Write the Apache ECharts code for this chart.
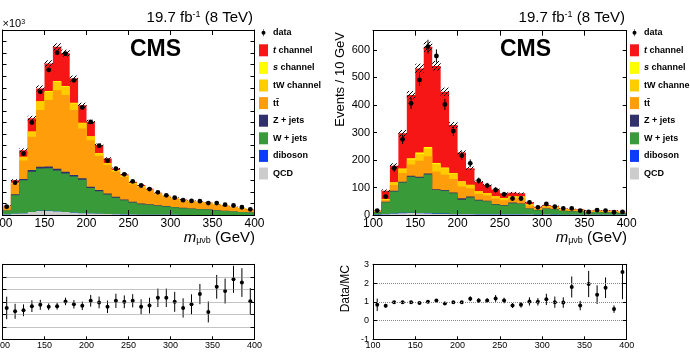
<!DOCTYPE html>
<html>
<head>
<meta charset="utf-8">
<script src="https://cdn.jsdelivr.net/npm/echarts@6/dist/echarts.min.js"></script>
<style>
html, body { margin: 0; padding: 0; background: #fff; }
#chart { width: 690px; height: 354px; }
</style>
</head>
<body>
<div id="chart"></div>
<script>
const FONT = '"Liberation Sans", Arial, Helvetica, sans-serif';

// bin edges of m(mu nu b), GeV
const binEdges = [100,110,120,130,140,150,160,170,180,190,200,210,220,230,240,250,260,270,280,290,300,310,320,330,340,350,360,370,380,390,400];

// legend order (top of stack first)
const procNames = ['t channel', 's channel', 'tW channel', 'tt\u0304', 'Z + jets', 'W + jets', 'diboson', 'QCD'];
const procColors = ['#f71616', '#ffff00', '#ffcc00', '#ff9d0a', '#30306c', '#389a38', '#0a3cfa', '#cccccc'];

// ---- left panel (events x 10^3) ----
const leftTch = [0.05,0.2,0.55,1.13,1.12,2.38,2.96,2.84,2.1,1.52,1.26,0.69,0.41,0.14,0.12,0.1,0.09,0.08,0.07,0.06,0.05,0.05,0.04,0.04,0.04,0.03,0.03,0.03,0.02,0.02];
const leftSch = [0,0.02,0.03,0.03,0.03,0.06,0.06,0.06,0.05,0.05,0.04,0.03,0.02,0.02,0.01,0.01,0.01,0.01,0.01,0.01,0.01,0.01,0.01,0.01,0.01,0.01,0,0,0,0];
const leftTW = [0.03,0.1,0.3,0.43,0.72,0.72,0.73,0.73,0.57,0.44,0.29,0.23,0.15,0.12,0.11,0.09,0.08,0.07,0.06,0.05,0.05,0.04,0.04,0.03,0.03,0.03,0.02,0.02,0.02,0.01];
const leftTT = [0.32,0.89,1.6,2.87,4.9,5.74,6.8,6.62,5.62,4.32,4.03,2.94,2.45,2.17,1.95,1.53,1.42,1.17,0.93,0.77,0.69,0.62,0.58,0.55,0.52,0.45,0.41,0.35,0.29,0.24];
const leftZjets = [0.02,0.08,0.12,0.15,0.15,0.15,0.15,0.15,0.14,0.13,0.12,0.1,0.09,0.08,0.07,0.06,0.05,0.05,0.04,0.04,0.03,0.03,0.03,0.02,0.02,0.02,0.02,0.01,0.01,0.01];
const leftWjets = [0.34,1.6,2.86,3.49,3.67,3.69,3.54,3.34,3.11,2.88,2.2,1.95,1.69,1.43,1.22,1.04,0.91,0.86,0.79,0.71,0.64,0.58,0.52,0.48,0.46,0.39,0.34,0.29,0.25,0.2];
const leftVV = [0,0.005,0.005,0.01,0.01,0.01,0.01,0.01,0.01,0.01,0.005,0.005,0.005,0.005,0.005,0,0,0,0,0,0,0,0,0,0,0,0,0,0,0];
const leftQCD = [0.04,0.1,0.13,0.25,0.35,0.35,0.3,0.25,0.2,0.15,0.12,0.1,0.08,0.06,0.05,0.04,0.03,0.03,0.02,0.02,0.02,0.01,0.01,0.01,0.01,0.01,0.01,0.01,0.01,0.01];
const leftData = [0.72,2.8,5.3,8.0,10.65,12.55,14.04,13.95,11.65,9.3,8.05,6.0,4.7,4.0,3.52,2.9,2.55,2.24,1.96,1.7,1.5,1.28,1.22,1.2,1.03,1.03,0.89,0.82,0.67,0.49];
const leftDataErr = [0.03,0.05,0.07,0.09,0.1,0.11,0.12,0.12,0.11,0.1,0.09,0.08,0.07,0.06,0.06,0.05,0.05,0.05,0.04,0.04,0.04,0.04,0.03,0.03,0.03,0.03,0.03,0.03,0.03,0.02];
const leftUnc = [0.03,0.1,0.17,0.22,0.26,0.28,0.3,0.3,0.26,0.21,0.17,0.13,0.1,0.08,0.07,0.05,0.05,0.04,0.04,0.03,0.03,0.03,0.03,0.02,0.02,0.02,0.02,0.02,0.01,0.01];
const leftRatio = [0.951,0.924,0.932,0.965,0.976,0.96,0.965,1.003,0.98,0.968,1.008,0.995,0.96,1.008,1.0,1.008,0.96,0.97,1.032,1.032,1.0,0.951,0.98,1.062,0.919,1.12,1.086,1.18,1.154,1.005];
const leftRatioErr = [0.09,0.06,0.047,0.047,0.04,0.027,0.027,0.03,0.034,0.034,0.047,0.047,0.05,0.057,0.051,0.053,0.06,0.063,0.074,0.074,0.08,0.077,0.08,0.081,0.084,0.095,0.1,0.108,0.115,0.105];

// ---- right panel (events / 10 GeV) ----
const rightTch = [3,30,60,128,230,306,365,353,275,174,104,60,35,29,25,17,13,12,7,4,4,3,2.5,2,2,1.5,1.5,1.5,1.5,1];
const rightSch = [0,1,2,3,4,5,5,4,3,2,2,1,1,1,1,1,1,1,0.5,0.5,0.5,0.5,0.5,0.5,0.5,0.5,0.5,0.5,0.5,0.5];
const rightTW = [1,3,8,13,18,25,28,27,24,20,17,12,9,8,7,7,6,6,4,2.5,2.5,2.5,2,2,2,1.5,1.5,1.5,1.5,1];
const rightTT = [2,6,21,32,41,58,63,64,55,49,43,30,21,19,20,18,16,18,10.5,5,5,5,4,4,3.5,3,3.5,3,3,2.5];
const rightZjets = [0.5,1.5,2.5,3,3.5,3.5,4,3.5,3,3,6,3,2,2,2,1.5,2,2,1,1,1,1,0.5,0.5,0.5,0.5,0.5,0.5,0.5,0.5];
const rightWjets = [8,43,80,110,131,128,140,85,83,75,51,60,50,47,35,32,40,37,21,15.5,21,19.5,13.5,12,11.5,8,9.5,8,8,5.5];
const rightVV = [0.3,0.5,1,1.5,1.5,1.5,2,1.5,1.5,1,1,1,1,1,1,1,1,1,0.5,0.5,0.5,0.5,0.5,0.5,0.5,0.5,0.5,0.5,0.5,0.5];
const rightQCD = [1.2,3,4.5,6.5,7,6,5,4,3.5,3,3,3,2,2,2,1.5,2,2,1.5,1,1.5,1,0.5,0.5,0.5,0.5,0.5,0.5,0.5,0.5];
const rightData = [16,67,170,275,406,491,612,578,402,305,216,188,125,107,91,75,60,60,46,28,40,30,24,24,16,11,18,16,10,11];
const rightDataErr = [4,8,13,17,20,22,25,24,20,17,15,14,11,10,10,9,8,8,7,5,6,5,5,5,4,3,4,4,3,3];
const rightUnc = [1,5,9,12,15,17,19,18,15,11,8,6,4,4,3,3,3,3,2,1,1,1,1,1,1,1,1,1,1,1];
const rightRatio = [0.84,0.79,0.98,0.98,0.98,0.93,1.0,1.07,0.91,0.98,0.98,1.16,1.07,1.07,1.18,1.07,0.8,0.84,1.02,1.0,1.13,0.98,0.96,1.79,0.8,1.95,1.38,1.75,0.61,2.59];
const rightRatioErr = [0.33,0.1,0.07,0.06,0.05,0.05,0.04,0.05,0.05,0.06,0.07,0.13,0.12,0.12,0.18,0.15,0.13,0.15,0.22,0.2,0.3,0.3,0.28,0.56,0.25,0.7,0.5,0.55,0.2,1.45];

// hatch for the MC uncertainty band
const hatchCanvas = document.createElement('canvas');
hatchCanvas.width = 4; hatchCanvas.height = 4;
(function () {
  const ctx = hatchCanvas.getContext('2d');
  ctx.strokeStyle = '#000';
  ctx.lineWidth = 1;
  ctx.beginPath();
  ctx.moveTo(0, 4); ctx.lineTo(4, 0);
  ctx.moveTo(-1, 1); ctx.lineTo(1, -1);
  ctx.moveTo(3, 5); ctx.lineTo(5, 3);
  ctx.stroke();
})();
const hatchFill = { image: hatchCanvas, repeat: 'repeat' };

// whole stacked layer as one step polygon (drawn once, from item 0)
function renderLayer(params, api) {
  if (params.dataIndexInside !== 0) return null;
  const n = params.dataInsideLength;
  const pts = [];
  for (let j = 0; j < n; j++) {
    const v = api.value(2, j);
    pts.push(api.coord([api.value(0, j), v]));
    pts.push(api.coord([api.value(1, j), v]));
  }
  pts.push(api.coord([api.value(1, n - 1), 0]));
  pts.push(api.coord([api.value(0, 0), 0]));
  return { type: 'polygon', shape: { points: pts }, style: { fill: api.visual('color') } };
}

function renderHatch(params, api) {
  const a = api.coord([api.value(0), api.value(2)]);
  const b = api.coord([api.value(1), api.value(3)]);
  return {
    type: 'rect',
    shape: { x: a[0], y: b[1], width: b[0] - a[0], height: a[1] - b[1] },
    style: { fill: hatchFill }
  };
}

function pointRenderer(r) {
  return function (params, api) {
    const x = api.value(0), y = api.value(1), e = api.value(2);
    const c = api.coord([x, y]);
    const lo = api.coord([x, y - e]);
    const hi = api.coord([x, y + e]);
    return {
      type: 'group',
      children: [
        { type: 'line', shape: { x1: c[0], y1: lo[1], x2: c[0], y2: hi[1] }, style: { stroke: '#000', lineWidth: 1 } },
        { type: 'circle', shape: { cx: c[0], cy: c[1], r: r }, style: { fill: '#000' } }
      ]
    };
  };
}

function binCenter(i) { return (binEdges[i] + binEdges[i + 1]) / 2; }

function mainSeries(comps, data, dataErr, unc, axisIdx) {
  const out = [];
  let total = null;
  procNames.forEach((nm, k) => {
    const cum = data.map((_, i) => comps.slice(k).reduce((s, arr) => s + arr[i], 0));
    if (k === 0) total = cum;
    out.push({
      type: 'custom', name: nm, xAxisIndex: axisIdx, yAxisIndex: axisIdx,
      silent: true, z: 2,
      itemStyle: { color: procColors[k] },
      encode: { x: [0, 1], y: 2 },
      renderItem: renderLayer,
      data: cum.map((v, i) => [binEdges[i], binEdges[i + 1], v])
    });
  });
  out.push({
    type: 'custom', name: 'unc', xAxisIndex: axisIdx, yAxisIndex: axisIdx,
    silent: true, z: 3, encode: { x: [0, 1], y: [2, 3] },
    renderItem: renderHatch,
    data: total.map((t, i) => [binEdges[i], binEdges[i + 1], t - unc[i], t + unc[i]])
  });
  out.push({
    type: 'custom', name: 'data', xAxisIndex: axisIdx, yAxisIndex: axisIdx,
    silent: true, z: 4, itemStyle: { color: '#000' },
    encode: { x: 0, y: 1 },
    renderItem: pointRenderer(2.4),
    data: data.map((v, i) => [binCenter(i), v, dataErr[i]])
  });
  return out;
}

function ratioSeries(vals, errs, axisIdx) {
  return {
    type: 'custom', name: 'ratio', xAxisIndex: axisIdx, yAxisIndex: axisIdx,
    silent: true, z: 4, clip: true, encode: { x: 0, y: 1 },
    renderItem: pointRenderer(2.0),
    data: vals.map((v, i) => [binCenter(i), v, errs[i]])
  };
}

const grids = [
  { left: 2.5, top: 30, width: 252, height: 185 },
  { left: 2.5, top: 264.3, width: 252, height: 75 },
  { left: 373, top: 30.7, width: 253.7, height: 184.3 },
  { left: 373, top: 264.3, width: 253.7, height: 75 }
].map(g => Object.assign({ containLabel: false, outerBoundsMode: 'none' }, g));

function xAxesFor(g, fontSize, margin, tickLen) {
  const base = {
    type: 'value', gridIndex: g, min: 100, max: 400, interval: 50, z: 11,
    axisLine: { show: true, onZero: false, lineStyle: { color: '#000', width: 1 } },
    axisTick: { show: true, inside: true, length: tickLen, lineStyle: { color: '#000', width: 1 } },
    splitLine: { show: false }
  };
  return [
    Object.assign({}, base, { position: 'bottom', axisLabel: { show: true, fontSize: fontSize, margin: margin, color: '#000', fontFamily: FONT, alignMinLabel: 'center', alignMaxLabel: 'center', hideOverlap: false } }),
    Object.assign({}, base, { position: 'top', axisLabel: { show: false } })
  ];
}

function yAxesFor(g, min, max, interval, label, dotted) {
  const base = {
    type: 'value', gridIndex: g, min: min, max: max, interval: interval, z: 10,
    axisLine: { show: true, onZero: false, lineStyle: { color: '#000', width: 1 } },
    axisTick: { show: true, inside: true, length: 4, lineStyle: { color: '#000', width: 1 } }
  };
  return [
    Object.assign({}, base, {
      position: 'left',
      axisLabel: label ? Object.assign({ show: true, color: '#000', fontFamily: FONT, showMaxLabel: false }, label) : { show: false },
      splitLine: dotted ? { show: true, lineStyle: { type: 'dotted', color: '#888', width: 1 } } : { show: false }
    }),
    Object.assign({}, base, { position: 'right', axisLabel: { show: false }, splitLine: { show: false } })
  ];
}

const xAxis = [].concat(
  xAxesFor(0, 12, 3, 5),
  xAxesFor(1, 9, 1.5, 3),
  xAxesFor(2, 12, 3, 5),
  xAxesFor(3, 9, 1.5, 3)
);
const yAxis = [].concat(
  yAxesFor(0, 0, 16, 1, null, false),
  yAxesFor(1, 0.7, 1.3, 0.1, null, true),
  yAxesFor(2, 0, 670, 100, { fontSize: 11, margin: 3 }, false),
  yAxesFor(3, -1, 3, 1, { fontSize: 9, margin: 4, showMaxLabel: true }, true)
);

const leftComps = [leftTch, leftSch, leftTW, leftTT, leftZjets, leftWjets, leftVV, leftQCD];
const rightComps = [rightTch, rightSch, rightTW, rightTT, rightZjets, rightWjets, rightVV, rightQCD];

const series = [].concat(
  mainSeries(leftComps, leftData, leftDataErr, leftUnc, 0),
  [ratioSeries(leftRatio, leftRatioErr, 2)],
  mainSeries(rightComps, rightData, rightDataErr, rightUnc, 4),
  [ratioSeries(rightRatio, rightRatioErr, 6)]
);

const dataIcon = 'path://M0,0h0.01v0.01h-0.01z M8.99,11.99h0.01v0.01h-0.01z M4.2,2.5h0.6v7h-0.6z M6.5,6a2,2 0 1,1 -4,0a2,2 0 1,1 4,0z';
const legendData = [{ name: 'data', icon: dataIcon }].concat(procNames.map(n => ({ name: n, icon: 'rect' })));

function legendAt(left) {
  return {
    left: left, top: 26.7, orient: 'vertical', padding: 0,
    itemWidth: 9, itemHeight: 12, itemGap: 5.6, selectedMode: false,
    data: legendData,
    formatter: function (n) {
      if (n === 't channel') return '{i|t} channel';
      if (n === 's channel') return '{i|s} channel';
      return n;
    },
    textStyle: {
      fontSize: 9, fontWeight: 'bold', color: '#000', fontFamily: FONT,
      rich: { i: { fontSize: 9, fontWeight: 'bold', fontStyle: 'italic', color: '#000', fontFamily: FONT } }
    }
  };
}

function txt(x, y, text, size, align, extra, rich) {
  const style = {
    text: text, fill: '#000', fontSize: size, fontFamily: FONT,
    align: align, textAlign: align, verticalAlign: 'middle', textVerticalAlign: 'middle'
  };
  Object.assign(style, extra || {});
  if (rich) style.rich = rich;
  return { type: 'text', x: x, y: y, silent: true, z: 20, style: style };
}

const supRich = { sup: { fontSize: 9, fontFamily: FONT, fill: '#000', verticalAlign: 'top' } };
const titleRich = {
  m: { fontSize: 15, fontStyle: 'italic', fontFamily: FONT, fill: '#000' },
  sub: { fontSize: 9, fontFamily: FONT, fill: '#000', verticalAlign: 'bottom' }
};

const graphic = [
  txt(2.5, 24, '\u00d710{sup|3}', 11, 'left', null, { sup: { fontSize: 7, fontFamily: FONT, fill: '#000', verticalAlign: 'top' } }),
  txt(253, 18, '19.7 fb{sup|-1} (8 TeV)', 15, 'right', null, supRich),
  txt(625, 18, '19.7 fb{sup|-1} (8 TeV)', 15, 'right', null, supRich),
  txt(130, 50, 'CMS', 23, 'left', { fontWeight: 'bold' }),
  txt(500, 50, 'CMS', 23, 'left', { fontWeight: 'bold' }),
  txt(255, 238, '{m|m}{sub|\u03bc\u03bdb} (GeV)', 15, 'right', null, titleRich),
  txt(627, 238, '{m|m}{sub|\u03bc\u03bdb} (GeV)', 15, 'right', null, titleRich),
  Object.assign(txt(340, 32, 'Events / 10 GeV', 13, 'right'), { rotation: Math.PI / 2 }),
  Object.assign(txt(346, 265, 'Data/MC', 12, 'right'), { rotation: Math.PI / 2 })
];

const chart = echarts.init(document.getElementById('chart'), null, { renderer: 'canvas' });
chart.setOption({
  animation: false,
  backgroundColor: '#fff',
  grid: grids,
  xAxis: xAxis,
  yAxis: yAxis,
  legend: [legendAt(259), legendAt(630)],
  series: series,
  graphic: graphic
});
</script>
</body>
</html>
